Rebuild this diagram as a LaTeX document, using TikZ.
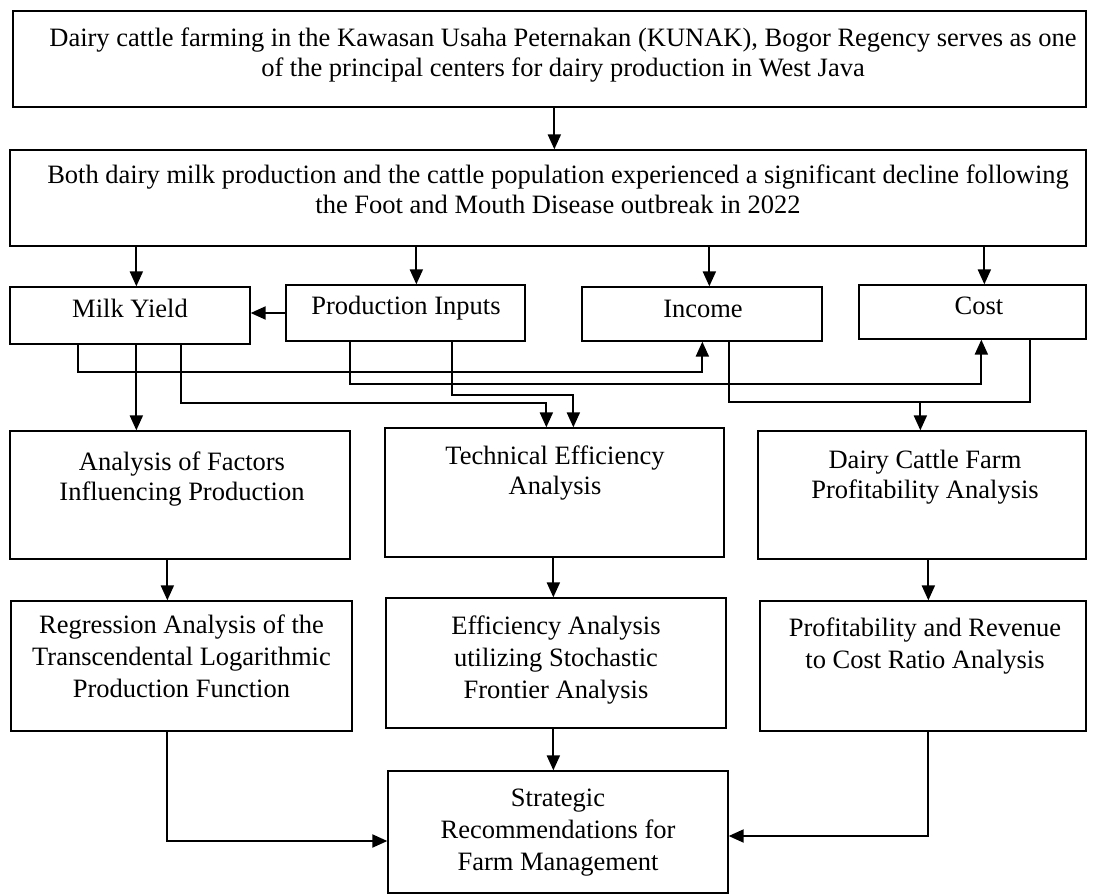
\documentclass[tikz,border=0pt]{standalone}
\usepackage{fontspec}
\setmainfont{Liberation Serif}
\usetikzlibrary{arrows.meta}
\newcommand\placebox[5]{\node[box, minimum width={(#4)-(#2)}, minimum height={(#5)-(#3)}] (#1) at ({((#2)+(#4))/2},{((#3)+(#5))/2}) {};}
\begin{document}
\begin{tikzpicture}[x=1pt,y=-1pt,
  box/.style={draw, line width=1.3pt, inner sep=0pt},
  conn/.style={line width=2pt},
  arr/.style={conn, -{Triangle[length=15pt,width=13pt]}},
  ta/.style={inner sep=0pt, align=center, anchor=north, font=\fontsize{26.5}{30}\selectfont},
  tb/.style={inner sep=0pt, align=center, anchor=north, font=\fontsize{26.5}{32}\selectfont},
  tc/.style={inner sep=0pt, anchor=base, font=\fontsize{26.5}{32}\selectfont},
]
\useasboundingbox (0,0) rectangle (1095,896);
% boxes
\placebox{b1}{13}{11}{1086}{107}
\placebox{b2}{10}{150}{1086}{246}
\placebox{my}{10}{287}{250}{344}
\placebox{pi}{286}{285}{525}{341}
\placebox{inc}{582}{287}{822}{341}
\placebox{cost}{859}{285}{1086}{339}
\placebox{afp}{10}{431}{350}{559}
\placebox{tea}{385}{428}{724}{557}
\placebox{dcp}{758}{431}{1086}{559}
\placebox{reg}{11}{601}{352}{731}
\placebox{eff}{386}{598}{726}{728}
\placebox{prc}{760}{601}{1086}{731}
\placebox{str}{388}{771}{728}{893}
% texts
\node[ta] (t1) at (563,25) {\strut Dairy cattle farming in the Kawasan Usaha Peternakan (KUNAK), Bogor Regency serves as one\\of the principal centers for dairy production in West Java};
\node[ta] (t2) at (558,162) {\strut Both dairy milk production and the cattle population experienced a significant decline following\\the Foot and Mouth Disease outbreak in 2022};
\node[tc] (tmy) at (130,317) {Milk Yield};
\node[tc] (tpi) at (406,314) {Production Inputs};
\node[tc] (tinc) at (703,317) {Income};
\node[tc] (tcost) at (979,314) {Cost};
\node[ta] (tafp) at (182,449) {\strut Analysis of Factors\\Influencing Production};
\node[ta] (ttea) at (555,443) {\strut Technical Efficiency\\Analysis};
\node[ta] (tdcp) at (925,447) {\strut Dairy Cattle Farm\\Profitability Analysis};
\node[tb] (treg) at (181.5,610.6) {\strut Regression Analysis of the\\Transcendental Logarithmic\\Production Function};
\node[tb] (teff) at (556,611.6) {\strut Efficiency Analysis\\utilizing Stochastic\\Frontier Analysis};
\node[tb] (tprc) at (925,613.6) {\strut Profitability and Revenue\\to Cost Ratio Analysis};
\node[tb] (tstr) at (558,783.6) {\strut Strategic\\Recommendations for\\Farm Management};
% connectors
\draw[arr] ([xshift=542pt]b1.south west) -- ([xshift=545pt]b2.north west);
\draw[arr] ([xshift=127pt]b2.south west) -- ([xshift=127pt]my.north west);
\draw[arr] ([xshift=407pt]b2.south west) -- ([xshift=131pt]pi.north west);
\draw[arr] ([xshift=700pt]b2.south west) -- ([xshift=128pt]inc.north west);
\draw[arr] ([xshift=975pt]b2.south west) -- ([xshift=126pt]cost.north west);
\draw[arr] (pi.west) -- (pi.west -| my.east);
\draw[arr] ([xshift=69pt]my.south west) -- ++(0,27) -| ([xshift=121pt]inc.south west);
\draw[arr] ([xshift=127pt]my.south west) -- ([xshift=127pt]afp.north west);
\draw[arr] ([xshift=172pt]my.south west) -- ++(0,58) -| ([xshift=162pt]tea.north west);
\draw[arr] ([xshift=65pt]pi.south west) -- ++(0,42) -| ([xshift=123pt]cost.south west);
\draw[arr] ([xshift=167pt]pi.south west) -- ++(0,53) -| ([xshift=189pt]tea.north west);
\draw[conn] ([xshift=148pt]inc.south west) -- ++(0,60) -| ([xshift=172pt]cost.south west);
\coordinate (j) at ([xshift=339pt,yshift=-60pt]inc.south west);
\draw[arr] (j) -- (j |- dcp.north);
\draw[arr] ([xshift=158pt]afp.south west) -- ([xshift=157pt]reg.north west);
\draw[arr] ([xshift=169pt]tea.south west) -- ([xshift=168pt]eff.north west);
\draw[arr] ([xshift=171pt]dcp.south west) -- ([xshift=169pt]prc.north west);
\draw[arr] ([xshift=168pt]eff.south west) -- ([xshift=166pt]str.north west);
\draw[arr] ([xshift=157pt]reg.south west) |- ([yshift=-9pt]str.west);
\draw[arr] ([xshift=169pt]prc.south west) |- ([yshift=-4pt]str.east);
\end{tikzpicture}
\end{document}
